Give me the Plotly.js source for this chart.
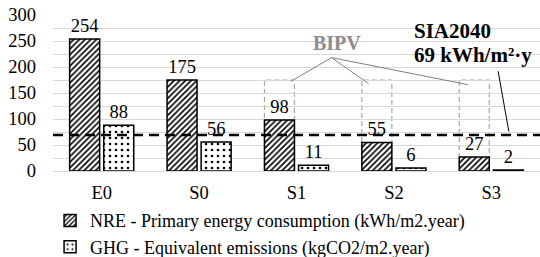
<!DOCTYPE html>
<html>
<head>
<meta charset="utf-8">
<script src="https://cdn.plot.ly/plotly-3.0.1.min.js"></script>
<style>
#chart text { font-family: 'Liberation Serif', 'Times New Roman', serif !important; }
</style>
</head>
<body style="margin:0">
<div id="chart"></div>
<script>
const categories = ["E0", "S0", "S1", "S2", "S3"];
const nreValues = [254, 175, 98, 55, 27];
const ghgValues = [88, 56, 11, 6, 2];
const nreName = "NRE - Primary energy consumption (kWh/m2.year)";
const ghgName = "GHG - Equivalent emissions (kgCO2/m2.year)";
const sia2040Target = 69;
const bipvCategories = ["S1", "S2", "S3"];
const bipvReference = 175;

const FONT = "Liberation Serif";
const bargap = 0.3, bargroupgap = 0.12;
const slot = (1 - bargap) / 2;
const barW = slot * (1 - bargroupgap);

const traces = [
  {
    type: "bar", name: nreName, x: categories, y: nreValues,
    text: nreValues.map(String), textposition: "outside", cliponaxis: false,
    textfont: {family: FONT, size: 18.5, color: "#000"},
    marker: {color: "#fff", line: {color: "#000", width: 1.5},
      pattern: {shape: "/", fgcolor: "#000", bgcolor: "#fff", size: 4, solidity: 0.4}}
  },
  {
    type: "bar", name: ghgName, x: categories, y: ghgValues,
    text: ghgValues.map(String), textposition: "outside", cliponaxis: false,
    textfont: {family: FONT, size: 18.5, color: "#000"},
    marker: {color: "#fff", line: {color: "#000", width: 1.5},
      pattern: {shape: ".", fgcolor: "#000", bgcolor: "#fff", size: 6, solidity: 0.15}}
  }
];

const shapes = [];
bipvCategories.forEach(c => {
  const i = categories.indexOf(c);
  const cx = i - slot / 2;
  shapes.push({type: "rect", xref: "x", yref: "y", layer: "below",
    x0: cx - barW / 2, x1: cx + barW / 2, y0: 0, y1: bipvReference,
    line: {color: "#a6a6a6", width: 1.2, dash: "5px,3px"}, fillcolor: "rgba(0,0,0,0)"});
});
shapes.push({type: "line", xref: "paper", yref: "y", x0: 0, x1: 1,
  y0: sia2040Target, y1: sia2040Target, line: {color: "#000", width: 2.5, dash: "10px,6px"}});
const bipvOrigin = [2.36, 218];
[[1.94, 172], [2.74, 168], [3.76, 166]].forEach(p => {
  shapes.push({type: "line", xref: "x", yref: "y", x0: bipvOrigin[0], y0: bipvOrigin[1],
    x1: p[0], y1: p[1], line: {color: "#7f7f7f", width: 1}});
});
shapes.push({type: "line", xref: "x", yref: "y", x0: 4.07, y0: 192, x1: 4.18, y1: 76,
  line: {color: "#000", width: 1}});

const layout = {
  width: 540, height: 257,
  margin: {l: 53, r: 0, t: 15, b: 86, autoexpand: false},
  paper_bgcolor: "#fff", plot_bgcolor: "#fff",
  barmode: "group", bargap: bargap, bargroupgap: bargroupgap,
  font: {family: FONT, size: 18, color: "#000"},
  showlegend: true,
  legend: {orientation: "v", x: -0.006, xanchor: "left", y: -0.2, yanchor: "top",
    font: {family: FONT, size: 18, color: "#000"}, tracegroupgap: 0, itemwidth: 30,
    bgcolor: "rgba(0,0,0,0)"},
  xaxis: {type: "category", range: [-0.5, 4.5], showgrid: false, showline: false,
    zeroline: false, ticks: "", ticklabelstandoff: 8, tickfont: {family: FONT, size: 18.5}},
  yaxis: {range: [0, 300], dtick: 50, tick0: 0, showgrid: true, gridcolor: "#d9d9d9",
    gridwidth: 1, zeroline: true, zerolinecolor: "#d9d9d9", zerolinewidth: 1,
    showline: false, ticks: "", ticklabelstandoff: 16, tickfont: {family: FONT, size: 18.5},
    minor: {dtick: 25, showgrid: true, gridcolor: "#d9d9d9", gridwidth: 1}},
  shapes: shapes,
  annotations: [
    {xref: "x", yref: "y", x: 2.42, y: 247, text: "<b>BIPV</b>", showarrow: false,
      font: {family: FONT, size: 20, color: "#8c8c8c"}},
    {xref: "x", yref: "y", x: 3.19, y: 270, xanchor: "left", yanchor: "middle",
      text: "<b>SIA2040</b>", showarrow: false, font: {family: FONT, size: 21, color: "#000"}},
    {xref: "x", yref: "y", x: 3.19, y: 223, xanchor: "left", yanchor: "middle",
      text: "<b>69 kWh/m²·y</b>", showarrow: false, font: {family: FONT, size: 21, color: "#000"}}
  ]
};

Plotly.newPlot("chart", traces, layout, {displayModeBar: false, staticPlot: true});
</script>
</body>
</html>
